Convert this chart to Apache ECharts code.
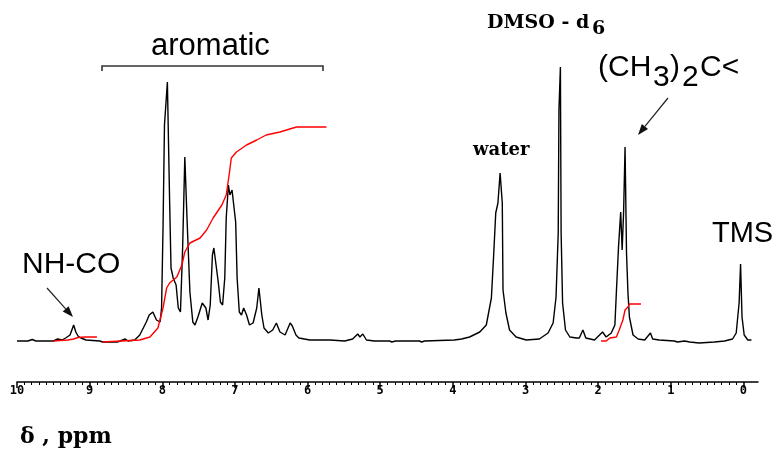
<!DOCTYPE html>
<html>
<head>
<meta charset="utf-8">
<script src="https://cdn.jsdelivr.net/npm/echarts@6/dist/echarts.min.js"></script>
<style>
  html, body { margin: 0; padding: 0; background: #fff; }
  #nmr { width: 779px; height: 461px; }
</style>
</head>
<body>
<div id="nmr"></div>
<script>
// chemical shift ticks (ppm)
const ppmTicks = [0, 1, 2, 3, 4, 5, 6, 7, 8, 9, 10];

// 1H spectrum, [ppm, intensity]
const spectrum = [
  [10.0, 0], [9.85, 0], [9.79, 1.5], [9.74, 0], [9.50, 0], [9.44, 2], [9.38, 1], [9.33, 3],
  [9.27, 6], [9.24, 12], [9.22, 16], [9.19, 9], [9.16, 5], [9.12, 3], [9.05, 1], [8.86, 0],
  [8.82, -1], [8.62, -1], [8.58, 0], [8.51, 2], [8.47, 0], [8.38, 1], [8.31, 6], [8.22, 19],
  [8.18, 26], [8.13, 29], [8.08, 21], [8.03, 19], [8.01, 33], [7.99, 113], [7.97, 216],
  [7.93, 259], [7.90, 143], [7.88, 73], [7.85, 63], [7.81, 56], [7.78, 33], [7.75, 29],
  [7.72, 93], [7.69, 184], [7.66, 123], [7.62, 49], [7.58, 19], [7.55, 16], [7.51, 24],
  [7.45, 38], [7.40, 33], [7.37, 21], [7.34, 36], [7.31, 86], [7.29, 93], [7.26, 76],
  [7.23, 59], [7.20, 39], [7.17, 36], [7.14, 63], [7.12, 123], [7.09, 156], [7.07, 146],
  [7.04, 151], [7.02, 153], [6.99, 119], [6.97, 63], [6.94, 29], [6.91, 26], [6.88, 33],
  [6.84, 26], [6.80, 16], [6.75, 18], [6.70, 33], [6.67, 53], [6.63, 26], [6.60, 13],
  [6.54, 8], [6.48, 11], [6.43, 18], [6.38, 9], [6.31, 6], [6.24, 18], [6.21, 15], [6.16, 6],
  [6.12, 3], [5.97, 1], [5.69, 1], [5.49, 0], [5.38, 2], [5.31, 7], [5.28, 4], [5.24, 7],
  [5.19, 1], [5.08, 0], [4.87, 0], [4.84, -1], [4.79, 0], [4.66, 0], [4.64, -1.5], [4.57, 0],
  [4.46, 0], [4.43, -1], [4.39, 0], [3.98, 1], [3.88, 2], [3.77, 4], [3.63, 9], [3.54, 16],
  [3.47, 43], [3.44, 84], [3.41, 128], [3.38, 138], [3.35, 168], [3.32, 138], [3.31, 51],
  [3.27, 28], [3.22, 11], [3.13, 4], [2.99, 1], [2.81, 2], [2.69, 8], [2.62, 18], [2.58, 44],
  [2.55, 108], [2.54, 231], [2.52, 274], [2.51, 108], [2.49, 38], [2.45, 11], [2.39, 4],
  [2.30, 3], [2.26, 3], [2.21, 11], [2.17, 3], [2.05, 1], [1.94, 9], [1.89, 4], [1.82, 8],
  [1.77, 16], [1.75, 48], [1.72, 94], [1.69, 129], [1.67, 91], [1.65, 129], [1.63, 194],
  [1.61, 88], [1.59, 48], [1.57, 24], [1.52, 6], [1.45, 2], [1.36, 1], [1.28, 8], [1.25, 2],
  [1.16, 1], [0.95, 0], [0.91, -1], [0.81, 0], [0.74, -1], [0.61, -2], [0.40, -1], [0.26, 0],
  [0.15, 2], [0.10, 8], [0.06, 38], [0.04, 77], [0.02, 24], [-0.01, 6], [-0.06, 1], [-0.11, 1]
];

// integral traces
const integralNH = [
  [9.50, 0], [9.41, 0.5], [9.30, 1], [9.22, 2], [9.16, 3.5], [9.06, 4], [8.90, 4]
];
const integralAromatic = [
  [8.82, -1], [8.31, 1], [8.17, 4], [8.06, 13], [7.99, 33], [7.94, 53], [7.90, 58],
  [7.80, 64], [7.73, 76], [7.69, 89], [7.62, 98], [7.48, 103], [7.39, 111], [7.30, 123],
  [7.18, 136], [7.12, 146], [7.08, 166], [7.05, 183], [6.98, 189], [6.84, 196], [6.70, 201],
  [6.57, 206], [6.38, 209], [6.20, 213], [6.15, 214], [5.74, 214]
];
const integralMethyl = [
  [1.96, 0], [1.89, 0], [1.84, 3], [1.75, 4], [1.71, 11], [1.66, 21], [1.63, 31],
  [1.59, 34], [1.57, 37], [1.41, 37]
];

const minorTicks = [];
for (let i = 0; i < 100; i++) {
  if (i % 10 !== 0) minorTicks.push(i / 10);
}

const chart = echarts.init(document.getElementById('nmr'));

const serifBold = 'bold 19px "DejaVu Serif"';
const sans = '"Liberation Sans", Arial';

function txt(x, y, text, font) {
  return {
    type: 'text', x: x, y: y, silent: true,
    style: { text: text, font: font, fill: '#000', verticalAlign: 'middle' }
  };
}

function arrow(x1, y1, x2, y2) {
  const a = Math.atan2(y2 - y1, x2 - x1);
  const L = 11, W = 4;
  const bx = x2 - L * Math.cos(a), by = y2 - L * Math.sin(a);
  return [
    { type: 'line', silent: true, shape: { x1: x1, y1: y1, x2: bx, y2: by }, style: { stroke: '#222', lineWidth: 1.2 } },
    { type: 'polygon', silent: true, shape: { points: [[x2, y2], [bx - W * Math.sin(a), by + W * Math.cos(a)], [bx + W * Math.sin(a), by - W * Math.cos(a)]] }, style: { fill: '#111' } }
  ];
}

const option = {
  backgroundColor: '#fff',
  animation: false,
  grid: { left: 17, right: 21, top: 41, bottom: 79 },
  xAxis: [
    {
      type: 'value', min: -0.2, max: 10, inverse: true,
      splitLine: { show: false },
      axisLine: { show: true, onZero: false, lineStyle: { color: '#000', width: 1.5 } },
      axisTick: { show: true, inside: false, length: 6, customValues: ppmTicks, lineStyle: { color: '#000', width: 1.5 } },
      axisLabel: { show: true, customValues: ppmTicks, margin: 3, color: '#000', fontSize: 12, fontWeight: 'bold', fontFamily: '"DejaVu Sans Mono"' }
    },
    {
      type: 'value', min: -0.2, max: 10, inverse: true, position: 'bottom', offset: 0,
      splitLine: { show: false },
      axisLine: { show: false, onZero: false },
      axisTick: { show: true, inside: false, length: 3, customValues: minorTicks, lineStyle: { color: '#000', width: 1 } },
      axisLabel: { show: false }
    }
  ],
  yAxis: { type: 'value', min: -41, max: 300, show: false },
  series: [
    {
      type: 'line', data: spectrum, symbol: 'none', xAxisIndex: 0,
      lineStyle: { color: '#000', width: 1.4 }
    },
    {
      type: 'line', data: integralNH, symbol: 'none',
      lineStyle: { color: '#ff0000', width: 1.4 }
    },
    {
      type: 'line', data: integralAromatic, symbol: 'none',
      lineStyle: { color: '#ff0000', width: 1.4 }
    },
    {
      type: 'line', data: integralMethyl, symbol: 'none',
      lineStyle: { color: '#ff0000', width: 1.4 }
    }
  ],
  graphic: [
    // aromatic bracket
    { type: 'polyline', silent: true, shape: { points: [[102, 71], [102, 66], [323, 66], [323, 71]] }, style: { stroke: '#333', lineWidth: 1.6, fill: null } },
    txt(151, 46, 'aromatic', '31px ' + sans),
    txt(487, 23, 'DMSO - d', serifBold),
    txt(592, 29, '6', serifBold),
    txt(473, 150, 'water', 'bold 18px "DejaVu Serif"'),
    txt(598, 68, '(CH', '30px ' + sans),
    txt(653, 78, '3', '30px ' + sans),
    txt(670, 68, ')', '30px ' + sans),
    txt(682, 78, '2', '30px ' + sans),
    txt(700, 68, 'C<', '30px ' + sans),
    txt(712, 234, 'TMS', '29px ' + sans),
    txt(22, 265, 'NH-CO', '30px ' + sans),
    txt(20, 437, '\u03b4 , ppm', 'bold 22px "DejaVu Serif"')
  ].concat(arrow(47, 288, 73, 317), arrow(668, 98, 638, 135))
};

chart.setOption(option);
</script>
</body>
</html>
